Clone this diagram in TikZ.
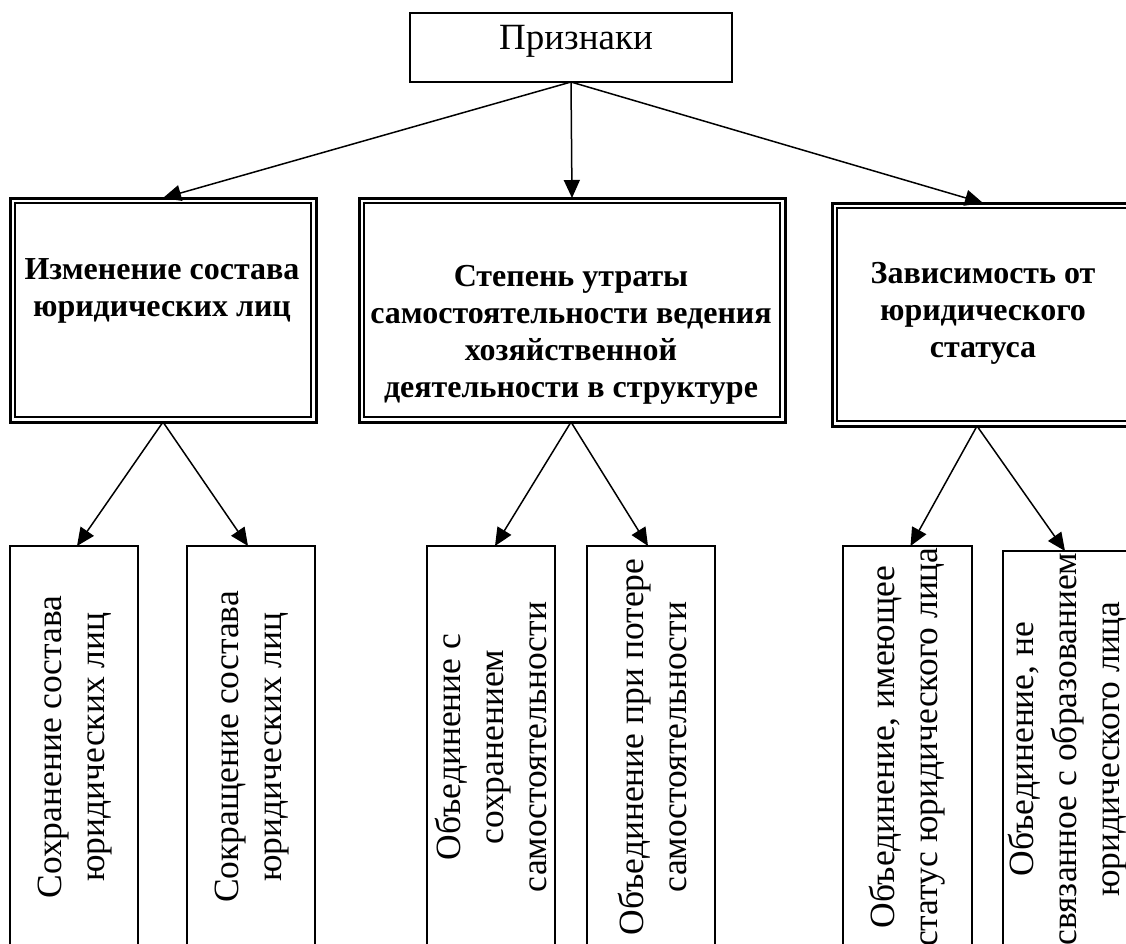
\documentclass[tikz,border=0pt]{standalone}
\usepackage{fontspec}
\setmainfont{Liberation Serif}
\usetikzlibrary{arrows.meta,calc}
\tikzset{
  plainbox/.style={draw, line width=1.5pt, inner sep=0pt, outer sep=0pt},
  outerbox/.style={draw, line width=3pt, inner sep=0pt, outer sep=0pt},
  innerline/.style={line width=1.8pt},
  conn/.style={line width=1.5pt, -{Triangle[length=18pt,width=16pt]}},
  boldtext/.style={inner sep=0pt, anchor=north, align=center, font=\fontsize{32}{37}\selectfont\bfseries},
  vtext/.style={inner sep=0pt, rotate=90, align=center, font=\fontsize{35.5}{43}\selectfont},
}
\begin{document}
\begin{tikzpicture}[x=1pt,y=-1pt]
\useasboundingbox (0,0) rectangle (1126,944);
\clip (0,0) rectangle (1126,944);
\fill[white] (0,0) rectangle (1126,944);

% top
\node[plainbox, minimum width=322pt, minimum height=69pt] (top) at (571,47.5) {};
\node[inner sep=0pt, anchor=base, font=\fontsize{37}{43}\selectfont] (toptext) at (576,50) {Признаки};

% middle boxes
\node[outerbox, minimum width=306pt, minimum height=224pt] (b1) at (163,310) {};
\node[outerbox, minimum width=426pt, minimum height=224pt] (b2) at (572,310) {};
\node[outerbox, minimum width=308pt, minimum height=223pt] (b3) at (986,314.5) {};
\foreach \b in {b1,b2,b3}{
  \draw[innerline] ($(\b.north west)+(5,5)$) rectangle ($(\b.south east)+(-5,-5)$);
}
\node[boldtext] (t1) at (162,258) {Изменение состава\\юридических лиц};
\node[boldtext] (t2) at (571,265) {Степень утраты\\самостоятельности ведения\\хозяйственной\\деятельности в структуре};
\node[boldtext] (t3) at (983,262) {Зависимость от\\юридического\\статуса};

% bottom boxes
\node[plainbox, minimum width=128pt, minimum height=402pt, anchor=north] (c1) at (74,546) {};
\node[plainbox, minimum width=128pt, minimum height=402pt, anchor=north] (c2) at (251,546) {};
\node[plainbox, minimum width=128pt, minimum height=402pt, anchor=north] (c3) at (491,546) {};
\node[plainbox, minimum width=128pt, minimum height=402pt, anchor=north] (c4) at (651,546) {};
\node[plainbox, minimum width=129pt, minimum height=402pt, anchor=north] (c5) at (907.5,546) {};
\node[plainbox, minimum width=128pt, minimum height=396pt, anchor=north] (c6) at (1067,551) {};

\node[vtext] (v1) at ($(c1.center)+(1,0)$) {Сохранение состава\\юридических лиц};
\node[vtext] (v2) at ($(c2.center)+(1,0)$) {Сокращение состава\\юридических лиц};
\node[vtext] (v3) at ($(c3.center)+(0,0)$) {Объединение с\\сохранением\\самостоятельности};
\node[vtext] (v4) at ($(c4.center)+(1,0)$) {Объединение при потере\\самостоятельности};
\node[vtext] (v5) at ($(c5.center)+(0,0)$) {Объединение, имеющее\\статус юридического лица};
\node[vtext] (v6) at ($(c6.center)+(1,0)$) {Объединение, не\\связанное с образованием\\юридического лица};

% connectors
\draw[conn] (top.south) -- (b1.north);
\draw[conn] (top.south) -- (b2.north);
\draw[conn] (top.south) -- ($(b3.north)+(-3,0)$);

\draw[conn] (b1.south) -- ($(c1.north)+(3,0)$);
\draw[conn] (b1.south) -- ($(c2.north)+(-3,0)$);
\draw[conn] ($(b2.south)+(-1,0)$) -- ($(c3.north)+(4,0)$);
\draw[conn] ($(b2.south)+(-1,0)$) -- ($(c4.north)+(-3,0)$);
\draw[conn] ($(b3.south)+(-9,0)$) -- ($(c5.north)+(3,0)$);
\draw[conn] ($(b3.south)+(-9,0)$) -- ($(c6.north)+(-2,0)$);
\end{tikzpicture}
\end{document}
